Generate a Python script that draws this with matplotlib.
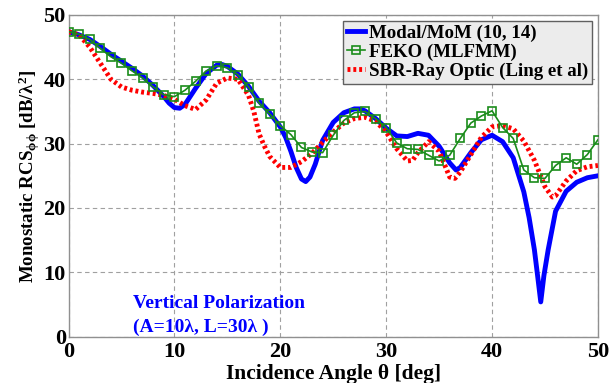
import matplotlib
matplotlib.use("Agg")
import matplotlib.pyplot as plt

plt.rcParams['font.family'] = ['Liberation Serif', 'DejaVu Serif']
plt.rcParams['font.weight'] = 'bold'
plt.rcParams['mathtext.fontset'] = 'custom'
plt.rcParams['mathtext.rm'] = 'Liberation Serif:bold'
plt.rcParams['mathtext.it'] = 'Liberation Serif:bold'
plt.rcParams['mathtext.bf'] = 'Liberation Serif:bold'

# Modal/MoM (10, 14)
ang_mom = [0, 1, 2, 3, 4, 5, 6, 7, 8, 9, 9.5, 10, 10.5, 11, 12, 13, 14, 14.5, 15, 16,
           17, 18, 19, 20, 20.5, 21, 21.5, 22, 22.4, 22.8, 23.3, 24, 25, 26, 27, 27.5, 28, 29, 30, 31,
           32, 33, 34, 35, 36, 36.6, 37, 38, 39, 40, 41, 42, 43, 43.5, 44, 44.3, 44.6, 44.9, 45.3, 46,
           47, 48, 49, 50]
rcs_mom = [47.4, 46.9, 46.2, 45.1, 43.9, 42.8, 41.7, 40.5, 39.0, 37.3, 36.3, 35.6, 35.5, 36.1, 38.6, 40.9, 42.2, 42.3, 42.0, 40.8,
           38.9, 36.6, 34.8, 32.6, 31.0, 28.8, 26.3, 24.5, 24.1, 24.8, 26.8, 30.5, 33.3, 34.8, 35.4, 35.4, 35.1, 33.9, 32.4, 31.2,
           31.1, 31.6, 31.3, 29.6, 27.0, 25.9, 26.3, 28.6, 30.6, 31.3, 30.3, 27.8, 22.5, 18.5, 13.5, 9.5, 5.4, 9.5, 13.5, 19.5,
           22.6, 24.0, 24.7, 25.0]

# FEKO (MLFMM), one point per degree
ang_feko = list(range(0, 51))
rcs_feko = [47.4, 47.0, 46.2, 44.8, 43.5, 42.5, 41.3, 40.2, 38.8, 37.6,
            37.3, 38.3, 39.7, 41.3, 42.1, 41.8, 40.7, 38.8, 36.3, 34.6,
            32.8, 31.4, 29.4, 28.7, 28.6, 31.3, 33.6, 34.8, 35.0, 33.9,
            32.5, 30.1, 29.2, 29.1, 28.2, 27.3, 28.2, 30.8, 33.2, 34.3,
            35.1, 32.5, 30.8, 25.9, 24.7, 24.6, 26.6, 27.8, 26.8, 28.3,
            30.6]

# SBR-Ray Optic (Ling et al)
ang_sbr = [0, 1, 2, 3, 4, 5, 6, 7, 8, 9, 10, 11, 12, 13, 14, 15, 16, 17, 17.5, 18,
           18.5, 19, 20, 21, 22, 23, 24, 25, 26, 27, 28, 29, 30, 31, 32, 32.5, 33, 34, 35, 36,
           36.5, 37, 38, 39, 40, 41, 42, 43, 44, 45, 45.7, 46, 47, 48, 49, 50]
rcs_sbr = [47.4, 46.9, 45.0, 42.5, 40.0, 38.8, 38.3, 38.0, 37.8, 37.5, 36.9, 35.9, 35.3, 36.8, 39.4, 40.2, 40.0, 37.5, 35.0, 31.5,
           29.6, 28.0, 26.3, 26.3, 27.2, 28.5, 30.2, 31.8, 33.2, 33.9, 34.1, 33.5, 31.8, 29.2, 27.3, 27.4, 28.6, 30.3, 28.8, 24.8,
           24.6, 25.6, 28.3, 31.0, 32.6, 32.8, 32.3, 30.4, 27.4, 23.3, 21.7, 21.9, 24.2, 25.8, 26.4, 26.6]

fig = plt.figure(figsize=(6.12, 3.83), dpi=100)
ax = fig.add_axes([0.112, 0.121, 0.865, 0.840])

ax.plot(ang_mom, rcs_mom, color='#0000ff', lw=3.5, label='Modal/MoM (10, 14)', zorder=3)
ax.plot(ang_sbr, rcs_sbr, color='#ff0000', lw=3.5, linestyle=(0, (0.6, 0.6)),
        label='SBR-Ray Optic (Ling et al)', zorder=4)
ax.plot(ang_feko, rcs_feko, color='#1a8c1a', lw=1.2, marker='s', markersize=5.5,
        markerfacecolor='none', markeredgewidth=1.2, label='FEKO (MLFMM)', zorder=5)

ax.set_xlim(0, 50)
ax.set_ylim(0, 50)
ax.set_xticks([0, 10, 20, 30, 40, 50])
ax.set_yticks([0, 10, 20, 30, 40, 50])
ax.tick_params(direction='in', length=0, labelsize=16, pad=2)
ax.tick_params(axis='x', pad=4)
for lab in ax.get_xticklabels() + ax.get_yticklabels():
    lab.set_fontweight('bold')
ax.grid(True, color='#a0a0a0', linestyle=(0, (4, 3)), lw=0.8)
for s in ax.spines.values():
    s.set_color('#909090')
    s.set_linewidth(1.0)

ax.set_xlabel('Incidence Angle θ [deg]', fontsize=15.5, fontweight='bold', labelpad=1)
ax.set_ylabel(r'Monostatic RCS$_{\phi\phi}$ [dB/$\lambda^2$]', fontsize=13.6, fontweight='bold', labelpad=1)

ax.text(6.1, 5.2, 'Vertical Polarization', color='#0000ff', fontsize=14, fontweight='bold', va='center')
ax.text(6.1, 1.4, '(A=10λ, L=30λ )', color='#0000ff', fontsize=14, fontweight='bold', va='center')

h, l = ax.get_legend_handles_labels()
order = [0, 2, 1]
leg = ax.legend([h[i] for i in order], [l[i] for i in order], loc='upper right',
                prop={'weight': 'bold', 'size': 13.6}, handlelength=1.0, handletextpad=0.2,
                borderpad=0.2, labelspacing=0.1, borderaxespad=0.3, fancybox=False,
                framealpha=1.0)
leg.get_frame().set_facecolor('#ececec')
leg.get_frame().set_edgecolor('#606060')
leg.set_zorder(10)

fig.savefig('out.png', dpi=100)
